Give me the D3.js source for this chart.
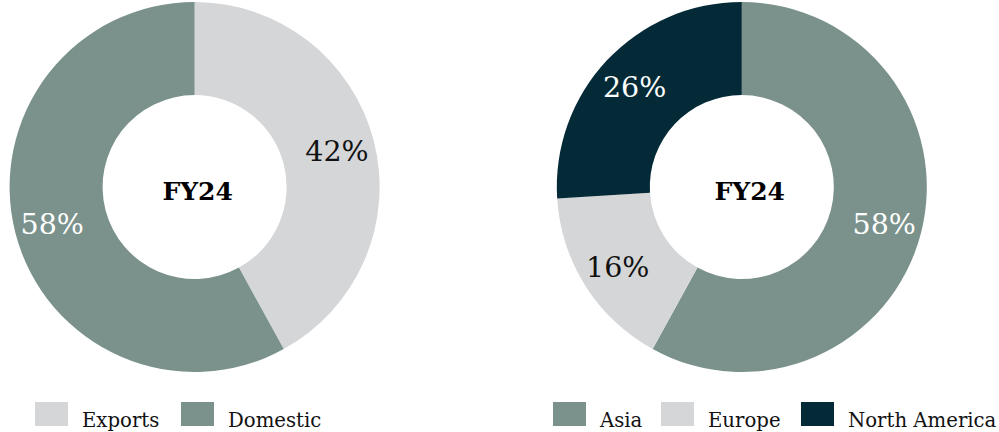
<!DOCTYPE html>
<html>
<head>
<meta charset="utf-8">
<script src="https://cdn.jsdelivr.net/npm/d3@7"></script>
<style>
html,body{margin:0;padding:0;background:#fff;}
svg{display:block;}
text{font-family:"DejaVu Serif","Liberation Serif",serif;}
</style>
</head>
<body>
<svg id="chart" width="999" height="432"></svg>
<script>
// Data
const centerLabel = "FY24";
const salesCategories = ["Exports", "Domestic"];
const salesValues = [42, 58];
const regionCategories = ["Asia", "Europe", "North America"];
const regionValues = [58, 16, 26];

const colorMap = {
  "Exports": "#d5d6d8",
  "Domestic": "#7a918c",
  "Asia": "#7a918c",
  "Europe": "#d5d6d8",
  "North America": "#042a38"
};
const labelColor = {
  "Exports": "#111",
  "Domestic": "#fff",
  "Asia": "#fff",
  "Europe": "#111",
  "North America": "#fff"
};

const svg = d3.select("#chart");
const outerR = 185, innerR = 92, labelR = 147;

function donut(cx, cy, cats, vals, centerDx, legendItems) {
  const data = cats.map((c, i) => ({cat: c, value: vals[i]}));
  const pie = d3.pie().value(d => d.value).sort(null);
  const arc = d3.arc().innerRadius(innerR).outerRadius(outerR);
  const labelArc = d3.arc().innerRadius(labelR).outerRadius(labelR);
  const g = svg.append("g").attr("transform", `translate(${cx},${cy})`);
  const arcs = pie(data);
  g.selectAll("path").data(arcs).join("path")
    .attr("d", arc)
    .attr("fill", d => colorMap[d.data.cat]);
  g.selectAll("text.pct").data(arcs).join("text")
    .attr("class", "pct")
    .attr("transform", d => `translate(${labelArc.centroid(d)})`)
    .attr("text-anchor", "middle")
    .attr("dy", "0.38em")
    .attr("font-size", 28.5)
    .attr("fill", d => labelColor[d.data.cat])
    .text(d => d.data.value + "%");
  g.append("text")
    .attr("x", centerDx).attr("y", 13)
    .attr("text-anchor", "middle")
    .attr("font-size", 25)
    .attr("font-weight", "bold")
    .attr("fill", "#000")
    .text(centerLabel);

  const lg = svg.append("g");
  legendItems.forEach(it => {
    lg.append("rect").attr("x", it.x).attr("y", 402).attr("width", 33).attr("height", 24)
      .attr("fill", colorMap[it.cat]);
    lg.append("text").attr("x", it.x + 47).attr("y", 427)
      .attr("font-size", 19.7).attr("fill", "#111").text(it.cat);
  });
}

donut(194.6, 187, salesCategories, salesValues, 3,
  [{cat: "Exports", x: 35}, {cat: "Domestic", x: 181}]);
donut(741.8, 187, regionCategories, regionValues, 8,
  [{cat: "Asia", x: 553}, {cat: "Europe", x: 661}, {cat: "North America", x: 801}]);
</script>
</body>
</html>
